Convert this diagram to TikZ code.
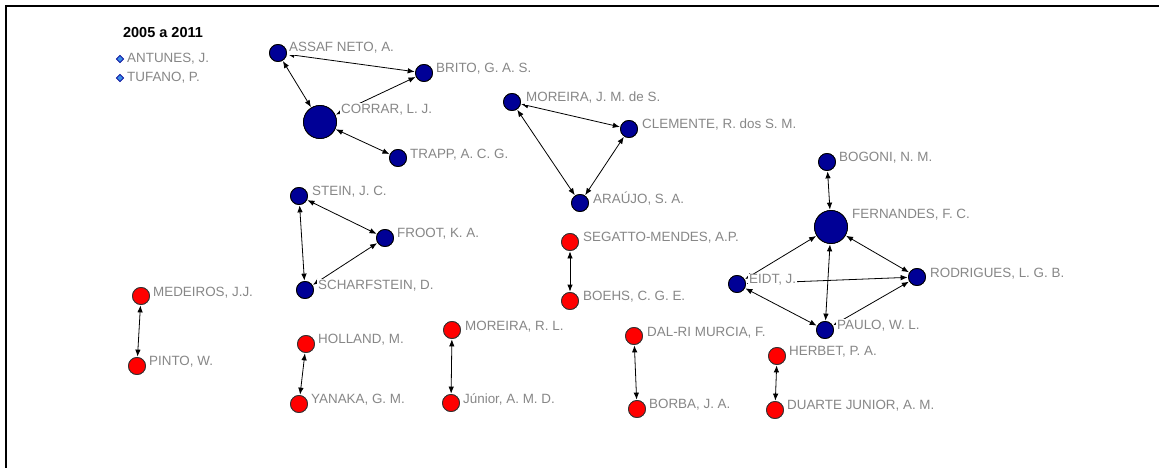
\documentclass[tikz,border=0pt]{standalone}
\usepackage{fontspec}
\setmainfont{Liberation Sans}
\usetikzlibrary{arrows.meta,shapes.geometric}
\definecolor{navyfill}{RGB}{0,0,150}
\definecolor{redfill}{RGB}{255,0,0}
\definecolor{labgray}{RGB}{135,135,135}
\definecolor{legblue}{RGB}{60,140,230}
\tikzset{
  bn/.style={circle,draw=black,line width=0.8pt,fill=navyfill,minimum size=17pt,inner sep=0pt},
  bigbn/.style={bn,minimum size=33pt},
  rn/.style={circle,draw=black!80,line width=0.8pt,fill=redfill,minimum size=17pt,inner sep=0pt},
  lab/.style={anchor=west,fill=white,inner sep=1pt,text=labgray,font=\fontsize{13.4}{15}\selectfont},
  link/.style={draw=black,line width=0.8pt,{Latex[length=7pt,width=5.5pt]}-{Latex[length=7pt,width=5.5pt]},shorten <=0.5pt,shorten >=0.5pt},
  legdia/.style={diamond,draw=navyfill,fill=legblue,line width=0.6pt,minimum size=7.5pt,inner sep=0pt}
}
\begin{document}
\begin{tikzpicture}[x=1pt,y=-1pt]
\useasboundingbox (0,0) rectangle (1159,468);
\draw[line width=2.5pt] (6,468) -- (6,6) -- (1159,6);

% legend
\node[font=\fontsize{14.5}{17}\selectfont\bfseries] (legtitle) at (163,33) {2005 a 2011};
\node[legdia] (d1) at (120,59) {};
\node[lab,inner sep=0pt] (antunes) at (127,59) {ANTUNES, J.};
\node[legdia] (d2) at (120,78) {};
\node[lab,inner sep=0pt] (tufano) at (127,78) {TUFANO, P.};

% nodes
\node[bn] (assaf) at (278,53) {};
\node[bn] (brito) at (424,73) {};
\node[bigbn] (corrar) at (320,122) {};
\node[bn] (trapp) at (398,158) {};
\node[bn] (morjms) at (512,102) {};
\node[bn] (clemente) at (629,129) {};
\node[bn] (araujo) at (580,203) {};
\node[bn] (stein) at (299,196) {};
\node[bn] (froot) at (385,238) {};
\node[bn] (scharf) at (305,290) {};
\node[bn] (bogoni) at (827,162) {};
\node[bigbn] (fern) at (831,227) {};
\node[bn] (eidt) at (737,284) {};
\node[bn] (rodr) at (917,277) {};
\node[bn] (paulo) at (825,330) {};
\node[rn] (segatto) at (570,242) {};
\node[rn] (boehs) at (570,301) {};
\node[rn] (medeiros) at (141,296) {};
\node[rn] (pinto) at (137,366) {};
\node[rn] (holland) at (306,344) {};
\node[rn] (yanaka) at (299,404) {};
\node[rn] (morrl) at (452,330) {};
\node[rn] (junior) at (451,403) {};
\node[rn] (dalri) at (634,336) {};
\node[rn] (borba) at (637,409) {};
\node[rn] (herbet) at (777,356) {};
\node[rn] (duarte) at (775,410) {};

% links
\draw[link] (assaf) -- (brito);
\draw[link] (assaf) -- (corrar);
\draw[link] (corrar) -- (brito);
\draw[link] (corrar) -- (trapp);
\draw[link] (morjms) -- (clemente);
\draw[link] (morjms) -- (araujo);
\draw[link] (araujo) -- (clemente);
\draw[link] (stein) -- (froot);
\draw[link] (stein) -- (scharf);
\draw[link] (scharf) -- (froot);
\draw[link] (bogoni) -- (fern);
\draw[link] (eidt) -- (fern);
\draw[link] (eidt) -- (rodr);
\draw[link] (eidt) -- (paulo);
\draw[link] (fern) -- (rodr);
\draw[link] (fern) -- (paulo);
\draw[link] (paulo) -- (rodr);
\draw[link] (segatto) -- (boehs);
\draw[link] (medeiros) -- (pinto);
\draw[link] (holland) -- (yanaka);
\draw[link] (morrl) -- (junior);
\draw[link] (dalri) -- (borba);
\draw[link] (herbet) -- (duarte);

% labels
\node[lab] (assafL) at (288,48) {ASSAF NETO, A.};
\node[lab] (britoL) at (435,69) {BRITO, G. A. S.};
\node[lab] (corrarL) at (340,110) {CORRAR, L. J.};
\node[lab] (trappL) at (409,155) {TRAPP, A. C. G.};
\node[lab] (morjmsL) at (525,98) {MOREIRA, J. M. de S.};
\node[lab] (clementeL) at (641,125) {CLEMENTE, R. dos S. M.};
\node[lab] (araujoL) at (592,199) {ARAÚJO, S. A.};
\node[lab] (steinL) at (311,192) {STEIN, J. C.};
\node[lab] (frootL) at (396,234) {FROOT, K. A.};
\node[lab] (scharfL) at (317,286) {SCHARFSTEIN, D.};
\node[lab] (bogoniL) at (838,158) {BOGONI, N. M.};
\node[lab] (fernL) at (851,215) {FERNANDES, F. C.};
\node[lab] (eidtL) at (748,280) {EIDT, J.};
\node[lab] (rodrL) at (929,274) {RODRIGUES, L. G. B.};
\node[lab] (pauloL) at (836,326) {PAULO, W. L.};
\node[lab] (segattoL) at (582,238) {SEGATTO-MENDES, A.P.};
\node[lab] (boehsL) at (582,297) {BOEHS, C. G. E.};
\node[lab] (medeirosL) at (152,293) {MEDEIROS, J.J.};
\node[lab] (pintoL) at (148,362) {PINTO, W.};
\node[lab] (hollandL) at (317,340) {HOLLAND, M.};
\node[lab] (yanakaL) at (310,400) {YANAKA, G. M.};
\node[lab] (morrlL) at (464,327) {MOREIRA, R. L.};
\node[lab] (juniorL) at (462,399) {Júnior, A. M. D.};
\node[lab] (dalriL) at (646,333) {DAL-RI MURCIA, F.};
\node[lab] (borbaL) at (648,405) {BORBA, J. A.};
\node[lab] (herbetL) at (788,352) {HERBET, P. A.};
\node[lab] (duarteL) at (786,406) {DUARTE JUNIOR, A. M.};

% circles drawn again on top of the links
\foreach \n/\s in {assaf/bn,brito/bn,corrar/bigbn,trapp/bn,morjms/bn,clemente/bn,araujo/bn,stein/bn,froot/bn,scharf/bn,bogoni/bn,fern/bigbn,eidt/bn,rodr/bn,paulo/bn,segatto/rn,boehs/rn,medeiros/rn,pinto/rn,holland/rn,yanaka/rn,morrl/rn,junior/rn,dalri/rn,borba/rn,herbet/rn,duarte/rn}
  \node[\s] at (\n.center) {};
\end{tikzpicture}
\end{document}
